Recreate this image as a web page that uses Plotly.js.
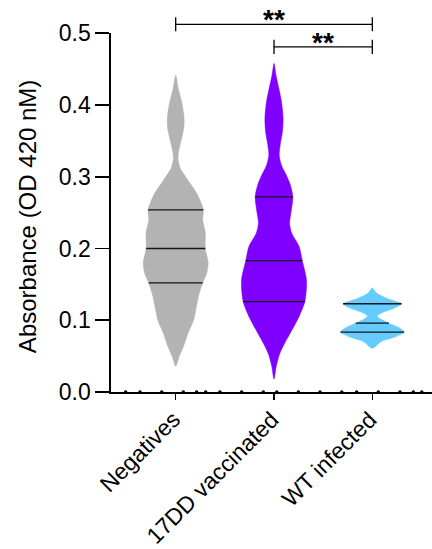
<!DOCTYPE html>
<html><head><meta charset="utf-8">
<script src="https://cdn.plot.ly/plotly-3.0.1.min.js"></script>
<style>html,body{margin:0;padding:0;background:#fff}#chart{width:432px;height:549px}</style>
</head><body><div id="chart"></div>
<script>
// ---- data ----
const categories = ['Negatives', '17DD vaccinated', 'WT infected'];

// violin outlines: absorbance levels (top to bottom) and relative density (0..1)
const negLevels = [0.442, 0.423, 0.405, 0.386, 0.377, 0.368, 0.349, 0.335, 0.325, 0.312, 0.303, 0.293, 0.279, 0.265, 0.254, 0.240, 0.222, 0.200, 0.180, 0.165, 0.152, 0.133, 0.115, 0.100, 0.082, 0.0635, 0.050, 0.036];
const negDensity = [0, 0.08, 0.18, 0.25, 0.26, 0.25, 0.16, 0.09, 0.07, 0.14, 0.26, 0.41, 0.62, 0.77, 0.85, 0.83, 0.91, 0.91, 1.0, 0.95, 0.83, 0.70, 0.62, 0.55, 0.38, 0.24, 0.11, 0];

const vacLevels = [0.458, 0.442, 0.423, 0.405, 0.382, 0.363, 0.344, 0.330, 0.316, 0.303, 0.289, 0.272, 0.252, 0.235, 0.221, 0.203, 0.183, 0.156, 0.126, 0.105, 0.087, 0.068, 0.054, 0.036, 0.018];
const vacDensity = [0, 0.06, 0.15, 0.23, 0.28, 0.26, 0.19, 0.16, 0.23, 0.37, 0.50, 0.58, 0.53, 0.48, 0.55, 0.77, 0.87, 1.0, 0.95, 0.77, 0.56, 0.33, 0.18, 0.07, 0];

const wtLevels = [0.145, 0.138, 0.131, 0.126, 0.123, 0.117, 0.110, 0.1055, 0.101, 0.096, 0.089, 0.0835, 0.0775, 0.0705, 0.061];
const wtDensity = [0, 0.13, 0.43, 0.74, 0.90, 0.69, 0.28, 0.15, 0.28, 0.51, 0.85, 0.98, 0.74, 0.28, 0];

// quartiles (Q1, median, Q3)
const negQuartiles = [0.152, 0.200, 0.254];
const vacQuartiles = [0.126, 0.183, 0.272];
const wtQuartiles = [0.0835, 0.096, 0.123];

// significance comparisons
const sigFrom = [0, 1];
const sigTo = [2, 2];
const sigLabel = ['**', '**'];

// small dots along the x axis
const axisDotX = [-0.509, -0.363, -0.142, 0.077, 0.213, 0.305, 0.450, 0.671, 0.891, 1.028, 1.248, 1.468, 1.689, 1.841, 2.061, 2.281, 2.417, 2.503];

const yTickVals = [0, 0.1, 0.2, 0.3, 0.4, 0.5];
const yTickText = ['0.0', '0.1', '0.2', '0.3', '0.4', '0.5'];
const yTitle = 'Absorbance (OD 420 nM)';

// ---- drawing ----
const levels = [negLevels, vacLevels, wtLevels];
const dens = [negDensity, vacDensity, wtDensity];
const quarts = [negQuartiles, vacQuartiles, wtQuartiles];
const colors = ['#b3b3b3', '#7f00ff', '#66ccff'];
const HALF = 0.3306;
const FONT = 'Arial, "Liberation Sans", Helvetica, sans-serif';

function widthAt(L, D, q) {
  for (let k = 0; k < L.length - 1; k++) {
    if (L[k] >= q && q >= L[k + 1]) {
      const t = (L[k] - q) / (L[k] - L[k + 1]);
      return D[k] + t * (D[k + 1] - D[k]);
    }
  }
  return 0;
}

const traces = [];
levels.forEach((L, i) => {
  const D = dens[i];
  const xs = [], ys = [];
  for (let k = 0; k < L.length; k++) { xs.push(i + D[k] * HALF); ys.push(L[k]); }
  for (let k = L.length - 2; k >= 1; k--) { xs.push(i - D[k] * HALF); ys.push(L[k]); }
  xs.push(i); ys.push(L[0]);
  traces.push({
    type: 'scatter', mode: 'lines', x: xs, y: ys, fill: 'toself',
    fillcolor: colors[i], line: {color: colors[i], width: 0.5, shape: 'spline', smoothing: 0.8},
    hoverinfo: 'skip', showlegend: false, xaxis: 'x', yaxis: 'y'
  });
});
levels.forEach((L, i) => {
  const qx = [], qy = [];
  quarts[i].forEach(q => {
    const w = widthAt(L, dens[i], q) * HALF;
    qx.push(i - w, i + w, null); qy.push(q, q, null);
  });
  traces.push({
    type: 'scatter', mode: 'lines', x: qx, y: qy,
    line: {color: '#151515', width: 1.3}, hoverinfo: 'skip', showlegend: false, xaxis: 'x', yaxis: 'y'
  });
});
traces.push({
  type: 'scatter', mode: 'markers', x: axisDotX, y: axisDotX.map(() => 0),
  marker: {color: '#000', size: 3.5}, cliponaxis: false, hoverinfo: 'skip', showlegend: false, xaxis: 'x', yaxis: 'y'
});

const bracketY = [0.5125, 0.481];
const tickH = 0.0098;
const annotations = [];
sigFrom.forEach((a, j) => {
  const b = sigTo[j], y = bracketY[j];
  traces.push({
    type: 'scatter', mode: 'lines',
    x: [a, a, null, a, b, null, b, b],
    y: [y - tickH, y + tickH, null, y, y, null, y - tickH, y + tickH],
    line: {color: '#000', width: 1.3}, hoverinfo: 'skip', showlegend: false, xaxis: 'x', yaxis: 'y2'
  });
  annotations.push({
    x: (a + b) / 2, y: y, xref: 'x', yref: 'y2', text: '<b>' + sigLabel[j] + '</b>', showarrow: false,
    yanchor: 'bottom', yshift: -13, font: {family: FONT, size: 28, color: '#000'}
  });
});
// y-axis title
annotations.push({
  x: -0.262, xref: 'paper', xanchor: 'center', y: 0.245, yref: 'y', yanchor: 'middle',
  text: yTitle, textangle: -90, showarrow: false, font: {family: FONT, size: 24, color: '#000'}
});
// category labels (rotated)
categories.forEach((c, i) => {
  annotations.push({
    x: i, xref: 'x', y: 0, yref: 'y', xanchor: 'right', yanchor: 'top',
    xshift: 12, yshift: -12, text: c, textangle: -45, showarrow: false,
    font: {family: FONT, size: 23, color: '#000'}
  });
});

const layout = {
  width: 432, height: 549,
  margin: {l: 111, r: 0, t: 5, b: 157},
  paper_bgcolor: '#fff', plot_bgcolor: 'rgba(0,0,0,0)',
  showlegend: false,
  font: {family: FONT, color: '#000'},
  xaxis: {
    range: [-0.658, 2.607], tickmode: 'array', tickvals: [0, 1, 2], showticklabels: false,
    ticks: 'outside', ticklen: 6, tickwidth: 1.6, tickcolor: '#000',
    showline: true, linewidth: 1.6, linecolor: '#000', showgrid: false, zeroline: false,
    anchor: 'y', fixedrange: true
  },
  yaxis: {
    domain: [0, 0.9269], range: [0, 0.5], tickmode: 'array', tickvals: yTickVals, ticktext: yTickText,
    ticks: 'outside', ticklen: 14, tickwidth: 1.6, tickcolor: '#000',
    showline: true, linewidth: 1.6, linecolor: '#000', showgrid: false, zeroline: false,
    tickfont: {family: FONT, size: 23, color: '#000'},
    anchor: 'x', fixedrange: true
  },
  yaxis2: {domain: [0, 1], range: [0, 0.5394], visible: false, anchor: 'x', fixedrange: true},
  annotations: annotations
};

Plotly.newPlot('chart', traces, layout, {displayModeBar: false, staticPlot: true});
</script>
</body></html>
